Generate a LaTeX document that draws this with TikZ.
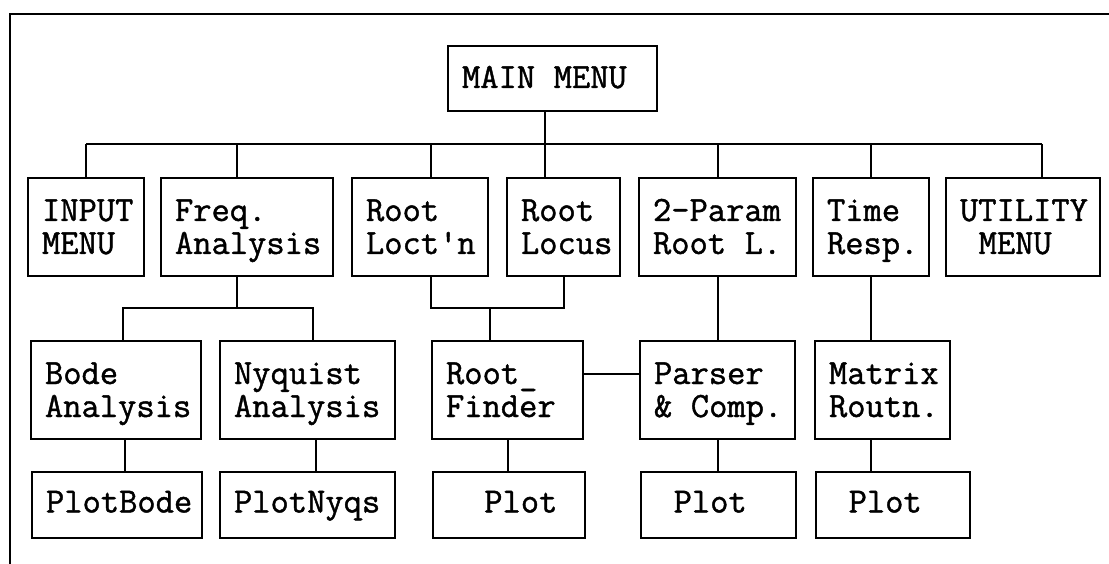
\documentclass[tikz,border=0pt]{standalone}
\usepackage{fontspec}
\setmonofont{Latin Modern Mono}[AutoFakeBold=1.2]
\newcommand{\ttsp}{\hspace*{0.525em}}
\tikzstyle{menubox}=[draw,rectangle,line width=2pt,align=left,inner xsep=14pt,inner ysep=0pt,font=\ttfamily\bfseries\fontsize{35.5}{33}\selectfont]
\tikzstyle{tall}=[menubox,minimum height=98pt,text height=29pt,text depth=41pt]
\tikzstyle{short}=[menubox,minimum height=66pt,text height=22pt,text depth=7pt]
\tikzstyle{wire}=[draw,line width=2pt,-]

\begin{document}
\begin{tikzpicture}[x=1pt,y=-1pt]
    \useasboundingbox (0,0) rectangle (1109,564);
    % frame
    \draw[line width=2pt] (10,564) -- (10,14) -- (1109,14);

    % top
    \node[menubox,minimum height=65pt,text height=22pt,text depth=3pt,text width=181pt] (main) at (552.5,78.5) {MAIN\ttsp MENU};

    % first row
    \node[tall,text width=88pt]  (input)  at (86,227)    {INPUT\\MENU};
    \node[tall,text width=144pt] (freq)   at (247,227)   {Freq.\\Analysis};
    \node[tall,text width=108pt] (loctn)  at (420,227)   {Root\\Loct'n};
    \node[tall,text width=85pt]  (locus)  at (563.5,227) {Root\\Locus};
    \node[tall,text width=129pt] (param)  at (717.5,227) {2-Param\\Root\ttsp L.};
    \node[tall,text width=88pt]  (time)   at (871,227)   {Time\\Resp.};
    \node[tall,text width=126pt] (util)   at (1023,227)  {UTILITY\\\ttsp MENU};

    % second row
    \node[tall,text width=142pt] (bode)   at (116,390)   {Bode\\Analysis};
    \node[tall,text width=147pt] (nyq)    at (307.5,390) {Nyquist\\Analysis};
    \node[tall,text width=123pt] (finder) at (507.5,390) {Root\_\\Finder};
    \node[tall,text width=127pt] (parser) at (717.5,390) {Parser\\\&\ttsp Comp.};
    \node[tall,text width=107pt] (matrix) at (882.5,390) {Matrix\\Routn.};

    % third row
    \node[short,text width=142pt] (plotbode)  at (117,505)   {PlotBode};
    \node[short,text width=147pt] (plotnyq)   at (307.5,505) {PlotNyqs};
    \node[short,text width=124pt] (plotroot)  at (509,505)   {\ttsp\ttsp Plot};
    \node[short,text width=127pt] (plotparse) at (718.5,505) {\ttsp Plot};
    \node[short,text width=126pt] (plotmat)   at (893,505)   {\ttsp Plot};

    \coordinate (bus) at (0,144);
    \coordinate (sub) at (0,308);

    % main menu to first row
    \path[wire] (input.north |- bus) -- ([xshift=19pt]util.north |- bus);
    \path[wire] ([xshift=-8pt]main.south) -- ([xshift=-8pt]main.south |- locus.north);
    \path[wire] (input.north) -- (input.north |- bus);
    \path[wire] ([xshift=-10pt]freq.north) -- ([xshift=-10pt]freq.north |- bus);
    \path[wire] ([xshift=11pt]loctn.north) -- ([xshift=11pt]loctn.north |- bus);
    \path[wire] (param.north) -- (param.north |- bus);
    \path[wire] (time.north) -- (time.north |- bus);
    \path[wire] ([xshift=19pt]util.north) -- ([xshift=19pt]util.north |- bus);

    % first row to second row
    \path[wire] ([xshift=-10pt]freq.south) -- ([xshift=-10pt]freq.south |- sub);
    \path[wire] ([xshift=7pt]bode.north) -- ([xshift=7pt]bode.north |- sub)
                -- ([xshift=5pt]nyq.north |- sub) -- ([xshift=5pt]nyq.north);
    \path[wire] ([xshift=11pt]loctn.south) -- ([xshift=11pt]loctn.south |- sub)
                -- (locus.south |- sub) -- (locus.south);
    \path[wire] ([xshift=-18pt]finder.north) -- ([xshift=-18pt]finder.north |- sub);
    \path[wire] ([yshift=16pt]finder.east) -- ([yshift=16pt]finder.east -| parser.west);
    \path[wire] (param.south) -- (parser.north);
    \path[wire] (time.south) -- (time.south |- matrix.north);

    % second row to plots
    \path[wire] ([xshift=9pt]bode.south) -- ([xshift=9pt]bode.south |- plotbode.north);
    \path[wire] ([xshift=8pt]nyq.south) -- ([xshift=8pt]nyq.south |- plotnyq.north);
    \path[wire] (finder.south) -- (finder.south |- plotroot.north);
    \path[wire] (parser.south) -- (parser.south |- plotparse.north);
    \path[wire] (time.south |- matrix.south) -- (time.south |- plotmat.north);
\end{tikzpicture}
\end{document}
